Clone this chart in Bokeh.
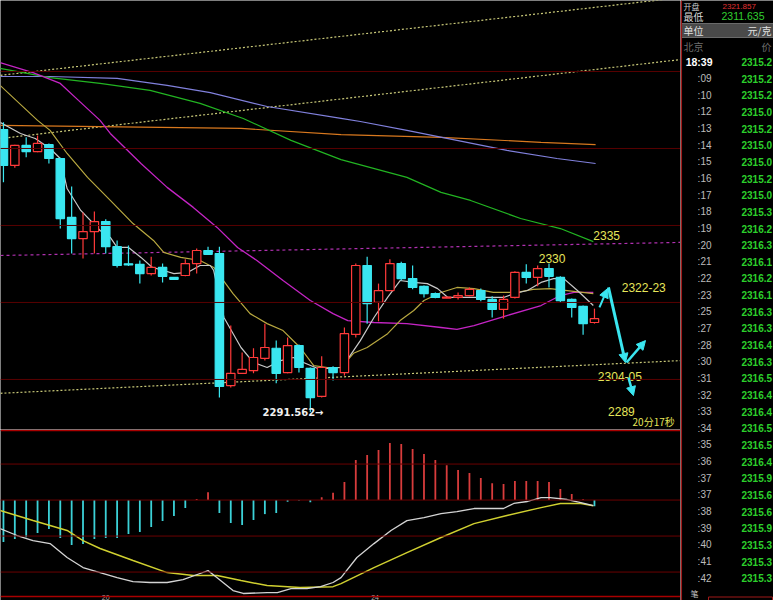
import numpy as np
from bokeh.plotting import figure
from bokeh.layouts import row, column
from bokeh.models import Range1d, Span, Arrow, NormalHead
from bokeh.core.properties import value
from bokeh.embed import file_html
from bokeh.resources import INLINE

# ---------------- candles (one per bar) ----------------
opens  = [2364.9, 2355.6, 2360.8, 2359.2, 2361.0, 2357.4, 2342.1, 2336.6, 2338.4, 2341.0,
          2334.5, 2330.0, 2329.9, 2327.5, 2329.1, 2326.5, 2327.0, 2330.1, 2333.5, 2332.7,
          2298.4, 2301.6, 2302.3, 2305.5, 2308.1, 2301.8, 2308.8, 2302.9, 2295.6, 2303.1,
          2301.8, 2311.7, 2329.6, 2320.0, 2323.1, 2330.1, 2326.2, 2324.2, 2322.3, 2321.2,
          2321.3, 2321.8, 2323.1, 2320.8, 2318.2, 2321.3, 2327.8, 2326.5, 2328.8, 2326.5,
          2320.8, 2319.0, 2314.8]
highs  = [2366.8, 2361.0, 2362.9, 2363.4, 2361.3, 2357.6, 2350.1, 2343.4, 2343.6, 2341.6,
          2336.1, 2334.8, 2330.9, 2331.9, 2330.1, 2326.6, 2331.2, 2334.0, 2334.5, 2334.5,
          2314.0, 2307.0, 2308.1, 2314.5, 2310.1, 2310.9, 2309.1, 2303.1, 2306.0, 2303.4,
          2313.5, 2330.1, 2331.9, 2324.9, 2331.2, 2330.6, 2329.6, 2324.4, 2322.6, 2321.5,
          2322.6, 2323.9, 2323.6, 2321.6, 2321.8, 2328.1, 2329.9, 2329.6, 2330.1, 2326.8,
          2321.0, 2319.2, 2318.4]
lows   = [2351.2, 2355.0, 2357.7, 2359.0, 2356.1, 2339.2, 2332.7, 2331.4, 2332.7, 2332.7,
          2329.1, 2329.5, 2324.9, 2327.0, 2325.2, 2325.9, 2326.8, 2327.5, 2332.4, 2295.3,
          2297.9, 2301.5, 2301.6, 2304.9, 2299.0, 2301.6, 2301.8, 2291.562, 2295.3, 2299.7,
          2301.0, 2310.9, 2314.5, 2315.1, 2323.0, 2325.7, 2323.4, 2321.3, 2321.1, 2321.1,
          2320.8, 2321.6, 2320.3, 2316.1, 2315.8, 2321.0, 2324.9, 2324.2, 2323.9, 2320.0,
          2316.1, 2311.635, 2314.5]
closes = [2355.6, 2360.8, 2359.2, 2361.3, 2357.4, 2341.8, 2336.6, 2338.4, 2341.0, 2334.5,
          2329.6, 2329.8, 2327.5, 2329.1, 2326.8, 2326.0, 2330.1, 2333.5, 2332.5, 2298.2,
          2301.6, 2302.6, 2305.7, 2308.3, 2301.6, 2308.8, 2303.1, 2295.3, 2303.1, 2301.8,
          2311.9, 2329.6, 2319.7, 2323.1, 2330.1, 2326.2, 2323.9, 2322.3, 2321.3, 2321.3,
          2321.8, 2323.4, 2320.8, 2318.2, 2320.8, 2327.8, 2326.5, 2328.8, 2326.8, 2320.5,
          2318.7, 2314.5, 2315.8]

# ---------------- moving averages (bar position, price) ----------------
ma5_x = [-0.3, 1.5, 2.8, 4.1, 5.0, 5.6, 6.8, 8.5, 9.4, 10.0, 11.0, 12.1, 13.1, 14.1, 15.0, 16.2, 17.3,
         18.2, 18.5, 19.4, 20.9, 22.0, 23.2, 24.4, 25.5, 26.4, 27.6, 28.5, 29.7, 30.5, 31.4, 32.6,
         33.8, 34.9, 36.1, 37.3, 38.2, 39.1, 40.2, 41.4, 43.1, 44.0, 44.9, 46.1, 47.3, 48.4, 49.3,
         50.5, 51.9]
ma5_y = [2366.8, 2363.9, 2362.6, 2360.0, 2357.4, 2349.6, 2343.9, 2338.7, 2336.9, 2334.3, 2334.3,
         2331.7, 2329.1, 2328.3, 2327.5, 2327.8, 2329.6, 2329.6, 2328.3, 2316.1, 2308.3, 2304.4,
         2303.1, 2304.9, 2305.7, 2304.4, 2302.9, 2302.9, 2303.1, 2306.2, 2310.1, 2316.1, 2321.3,
         2325.7, 2325.2, 2324.9, 2323.6, 2321.3, 2321.3, 2321.3, 2321.3, 2321.3, 2322.3, 2323.1,
         2325.2, 2326.2, 2326.2, 2323.1, 2319.2]
ma10_x = [-0.3, 3.0, 4.1, 5.6, 7.4, 9.4, 11.4, 13.2, 14.1, 15.6, 17.3, 18.5, 20.2, 21.7, 23.2, 24.6,
          26.1, 27.3, 28.5, 29.7, 30.8, 32.0, 33.8, 34.9, 36.1, 37.0, 38.5, 39.9, 41.4, 43.1, 45.2,
          46.6, 48.1, 49.6, 51.9]
ma10_y = [2376.4, 2367.3, 2364.7, 2358.7, 2352.5, 2346.5, 2340.5, 2336.1, 2333.0, 2331.7, 2330.9,
          2329.1, 2322.3, 2317.1, 2314.5, 2312.7, 2308.3, 2303.6, 2303.1, 2303.1, 2306.8, 2308.3,
          2311.9, 2315.3, 2317.9, 2320.5, 2322.6, 2323.9, 2323.6, 2322.6, 2322.6, 2323.4, 2323.6,
          2323.1, 2322.3]
ma20_x = [-0.3, 2.6, 5.0, 6.6, 8.5, 9.4, 12.1, 14.4, 16.7, 18.8, 20.6, 22.3, 24.6, 27.0, 29.0, 30.3,
          32.6, 35.5, 38.5, 39.9, 41.4, 44.3, 47.3, 49.0, 50.2, 51.9]
ma20_y = [2382.3, 2379.7, 2376.9, 2372.5, 2367.3, 2363.9, 2356.1, 2349.9, 2344.7, 2339.5, 2334.3,
          2330.9, 2325.7, 2320.5, 2317.1, 2315.3, 2314.8, 2314.5, 2313.5, 2313.0, 2314.0, 2316.6,
          2319.2, 2321.8, 2322.6, 2322.6]
ma60_x = [-0.3, 4.1, 8.5, 12.9, 17.3, 21.1, 25.3, 29.7, 35.5, 38.5, 41.1, 45.5, 49.0, 51.9]
ma60_y = [2380.8, 2378.4, 2376.9, 2375.1, 2371.7, 2367.8, 2362.1, 2357.1, 2352.5, 2348.6, 2346.5,
          2341.8, 2339.2, 2335.8]
mab_x = [-0.3, 4.1, 10.0, 14.4, 18.2, 23.2, 29.7, 31.4, 35.5, 39.9, 44.3, 48.7, 52.1]
mab_y = [2378.7, 2378.7, 2378.2, 2376.4, 2374.5, 2370.9, 2367.8, 2367.0, 2364.7, 2362.1, 2359.5,
         2357.4, 2356.1]
mao_x = [-0.3, 8.5, 20.9, 29.7, 38.5, 47.3, 52.1]
mao_y = [2366.0, 2365.7, 2365.2, 2363.6, 2362.9, 2361.6, 2361.0]

# trend lines (start / end bar position and price)
trend_x = [[-0.26, 59.57], [-0.26, 59.57], [-0.26, 59.57]]
trend_y = [[2379.0, 2399.2], [2362.6, 2383.1], [2296.4, 2304.9]]
res_x = [-0.26, 59.57]
res_y = [2332.2, 2335.6]
grid_levels = [2300, 2320, 2340, 2360, 2380]

# projected path arrows
arr_x0 = [52.44, 53.23, 54.82, 54.99]
arr_y0 = [2318.7, 2323.9, 2304.4, 2300.5]
arr_x1 = [53.15, 54.73, 56.49, 55.43]
arr_y1 = [2323.6, 2304.4, 2310.1, 2295.8]
arr_w = [2, 3, 2.5, 2.5]

ann_text = ["2335", "2330", "2322-23", "2304-05", "2289"]
ann_x = [51.9, 47.1, 54.4, 52.3, 53.2]
ann_y = [2337.4, 2331.4, 2323.9, 2300.8, 2291.7]
low_label = "2291.562\u2192"
low_x, low_y = 22.8, 2291.4
timer_text, timer_x, timer_y = "20分17秒", 55.35, 2289.1

# ---------------- MACD ----------------
macd_hist = [-2.33, -2.17, -2.06, -1.83, -1.61, -2.11, -2.5, -2.44, -2.17, -2.11, -2.11, -1.89,
             -1.78, -1.5, -1.17, -0.89, -0.44, 0.06, 0.44, -0.72, -1.28, -1.39, -1.11, -0.78,
             -0.72, -0.1, -0.03, -0.12, 0.15, 0.4, 1.0, 2.22, 2.5, 2.78, 3.17, 3.11, 2.83, 2.56,
             2.22, 1.94, 1.67, 1.5, 1.22, 0.94, 0.89, 1.06, 1.06, 1.06, 1.0, 0.61, 0.33, 0.05, -0.35]
dif_x = [-0.3, 1.2, 2.6, 4.1, 5.6, 7.0, 8.5, 10.0, 11.4, 12.9, 14.4, 15.8, 17.3, 18.0, 18.8, 20.2,
         21.1, 23.2, 24.1, 25.3, 26.7, 27.9, 29.0, 29.7, 31.1, 32.6, 34.1, 35.5, 37.0, 38.5, 39.9,
         41.4, 42.9, 44.0, 44.9, 46.1, 47.3, 48.1, 49.6, 50.8, 51.9]
dif_y = [-1.58, -1.97, -2.25, -2.42, -3.19, -3.75, -4.03, -4.31, -4.53, -4.58, -4.58, -4.42, -4.08,
         -3.92, -4.31, -5.03, -5.19, -5.14, -5.14, -4.92, -4.92, -4.81, -4.58, -4.31, -3.19, -2.42,
         -1.69, -1.14, -0.97, -0.75, -0.64, -0.47, -0.47, -0.47, -0.19, -0.08, 0.14, 0.14, 0.03,
         -0.14, -0.31]
dea_x = [-0.3, 2.6, 5.6, 7.0, 8.5, 11.4, 14.4, 16.7, 18.8, 20.9, 23.2, 26.1, 29.0, 29.7, 32.6, 35.5,
         38.5, 41.4, 44.3, 47.3, 49.0, 50.8, 51.9]
dea_y = [-0.58, -1.14, -1.69, -2.25, -2.69, -3.36, -4.03, -4.19, -4.19, -4.47, -4.75, -4.86, -4.81,
         -4.64, -3.75, -2.92, -2.08, -1.31, -0.86, -0.42, -0.19, -0.19, -0.31]
macd_grid = [2, 0, -2, -4]
date_labels = ["20", "24"]
date_x = [9.0, 32.7]

# ---------------- quote panel ----------------
q_times = ["18:39", ":09", ":10", ":12", ":13", ":14", ":15", ":16", ":17", ":18", ":19", ":20",
           ":21", ":22", ":23", ":25", ":27", ":28", ":30", ":31", ":32", ":33", ":34", ":35",
           ":36", ":37", ":37", ":38", ":39", ":40", ":41", ":42"]
q_prices = ["2315.2", "2315.2", "2315.2", "2315.0", "2315.2", "2315.0", "2315.0",
            "2315.2", "2315.0", "2315.3", "2316.2", "2316.3", "2316.1", "2316.2",
            "2316.1", "2316.3", "2316.3", "2316.4", "2316.3", "2316.5", "2316.4",
            "2316.4", "2316.5", "2316.5", "2316.4", "2315.9", "2315.6", "2315.6",
            "2315.9", "2315.3", "2315.3", "2315.3"]
q_open, q_low = "2321.857", "2311.635"

# ---------------- styling ----------------
BG = "#000000"
RED = "#ff3a3a"
CYAN = "#3ae6f0"
GRID = "#580000"
BORDER = "#a80000"
ANN = "#e6e65a"
FONT = value("Liberation Sans")
CJK = value("Noto Sans CJK SC")
XR = (-0.26, 59.57)


def make_fig(w, h, xr, yr):
    f = figure(width=w, height=h, x_range=Range1d(*xr), y_range=Range1d(*yr),
               output_backend="svg", toolbar_location=None, min_border=0,
               x_axis_location=None, y_axis_location=None,
               background_fill_color=BG, border_fill_color=BG, outline_line_color=None)
    f.grid.grid_line_color = None
    return f


# ---------- price panel ----------
p = make_fig(680, 429, XR, (2287.0, 2398.44))
for lv in grid_levels:
    p.add_layout(Span(location=lv, dimension="width", line_color=GRID, line_width=1))

for tx, ty in zip(trend_x, trend_y):
    p.line(tx, ty, line_color="#c8c878", line_width=1.2, line_dash="2 2")
p.line(res_x, res_y, line_color="#b030b0", line_width=1.2, line_dash="3 3")

p.line(mao_x, mao_y, line_color="#d8781e", line_width=1.2)
p.line(mab_x, mab_y, line_color="#8080dc", line_width=1.2)
p.line(ma60_x, ma60_y, line_color="#22b422", line_width=1.2)
p.line(ma20_x, ma20_y, line_color="#c424c4", line_width=1.3)
p.line(ma10_x, ma10_y, line_color="#b8a840", line_width=1.2)
p.line(ma5_x, ma5_y, line_color="#c8c8c8", line_width=1.2)

o = np.array(opens); c = np.array(closes); hi = np.array(highs); lo = np.array(lows)
idx = np.arange(len(o))
up = c >= o
col = np.where(up, RED, CYAN)
fill = np.where(up, BG, CYAN)
top = np.maximum(o, c); bot = np.minimum(o, c)
mid = (top + bot) / 2
thin = (top - bot) < 0.3
top = np.where(thin, mid + 0.15, top); bot = np.where(thin, mid - 0.15, bot)
p.segment(x0=idx, y0=hi, x1=idx, y1=lo, line_color=list(col), line_width=1.2)
p.vbar(x=idx, width=0.74, top=top, bottom=bot, fill_color=list(fill), line_color=list(col), line_width=1.2)

for x0, y0, x1, y1, w in zip(arr_x0, arr_y0, arr_x1, arr_y1, arr_w):
    p.add_layout(Arrow(end=NormalHead(size=9, fill_color=CYAN, line_color=CYAN),
                       x_start=x0, y_start=y0, x_end=x1, y_end=y1,
                       line_color=CYAN, line_width=w))

p.text(x=ann_x, y=ann_y, text=ann_text, text_font=FONT, text_font_size="12px",
       text_color=ANN, text_baseline="middle", text_align="left")
p.text(x=[timer_x], y=[timer_y], text=[timer_text], text_font=CJK,
       text_font_size="10px", text_color=ANN, text_baseline="middle", text_align="left")
p.text(x=[low_x], y=[low_y], text=[low_label], text_font=value("DejaVu Sans"),
       text_font_size="10px", text_font_style="bold", text_color="#f0f0f0",
       text_baseline="middle", text_align="left")

# ---------- MACD panel ----------
m = make_fig(680, 171, XR, (-5.58, 3.92))
for lv in macd_grid:
    m.add_layout(Span(location=lv, dimension="width", line_color="#6a0000", line_width=1))
m.add_layout(Span(location=3.86, dimension="width", line_color=BORDER, line_width=1.5))
m.add_layout(Span(location=-5.36, dimension="width", line_color=BORDER, line_width=1.5))
h = np.array(macd_hist)
hcol = np.where(h >= 0, "#d83c3c", "#3cd2d8")
m.segment(x0=idx, y0=np.zeros_like(h), x1=idx, y1=h, line_color=list(hcol), line_width=1.8)
m.line(dea_x, dea_y, line_color="#d0d030", line_width=1.5)
m.line(dif_x, dif_y, line_color="#d4d4d4", line_width=1.3)
m.text(x=date_x, y=[-5.57] * len(date_x), text=date_labels, text_font=FONT,
       text_font_size="7px", text_color="#b0b0b0", text_baseline="bottom", text_align="center")

# ---------- quote panel ----------
t = make_fig(93, 600, (680, 773), (600, 0))
t.quad(left=[681], right=[773], top=[23], bottom=[37], fill_color="#4a4a4a", line_color="#6a6a6a")
t.add_layout(Span(location=680.8, dimension="height", line_color="#a01818", line_width=1.5))
t.text(x=[683], y=[6], text=["开盘"], text_font=CJK, text_font_size="8px",
       text_color="#c8c8c8", text_baseline="middle")
t.text(x=[722], y=[6], text=[q_open], text_font=FONT, text_font_size="8px",
       text_color="#e03030", text_baseline="middle")
t.text(x=[683, 683, 683], y=[15.5, 30, 45.5], text=["最低", "单位", "北京"],
       text_font=CJK, text_font_size="10px",
       text_color=["#d8d8d8", "#e0e0e0", "#6e6e6e"], text_baseline="middle")
t.text(x=[721], y=[15.5], text=[q_low], text_font=FONT, text_font_size="10.5px",
       text_color="#30d030", text_baseline="middle")
t.text(x=[771, 771], y=[30, 45.5], text=["元/克", "价"], text_font=CJK, text_font_size="10px",
       text_color=["#e0e0e0", "#6e6e6e"], text_baseline="middle", text_align="right")
row_y = [61.5 + k * 16.65 for k in range(len(q_times))]
t.text(x=[712], y=row_y[:1], text=q_times[:1], text_font=FONT, text_font_size="10.5px",
       text_color="#ffffff", text_font_style="bold", text_baseline="middle", text_align="right")
t.text(x=[711] * (len(q_times) - 1), y=row_y[1:], text=q_times[1:], text_font=FONT,
       text_font_size="10px", text_color="#bcbcbc", text_baseline="middle", text_align="right")
t.text(x=[741] * len(q_prices), y=row_y, text=q_prices, text_font=FONT, text_font_size="10px",
       text_color="#2cd02c", text_font_style="bold", text_baseline="middle", text_align="left")
t.text(x=[690], y=[593], text=["笔"], text_font=CJK, text_font_size="8px",
       text_color="#c0c0c0", text_baseline="middle", text_align="left")
t.quad(left=[708], right=[772], top=[596.5], bottom=[610], fill_color=None, line_color="#a01818")

layout = row(column(p, m), t)

open("out.html", "w").write(file_html(layout, INLINE))
